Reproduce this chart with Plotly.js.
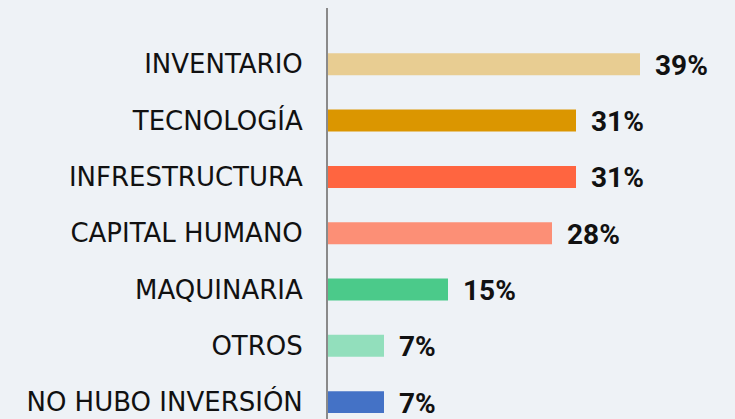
<!DOCTYPE html>
<html><head><meta charset="utf-8">
<script src="https://cdn.plot.ly/plotly-3.0.1.min.js"></script>
<style>html,body{margin:0;padding:0;background:#eef2f6;}#chart{width:735px;height:419px;}</style>
</head><body><div id="chart"></div>
<script>
const categories = ["NO HUBO INVERSIÓN","OTROS","MAQUINARIA","CAPITAL HUMANO","INFRESTRUCTURA","TECNOLOGÍA","INVENTARIO"];
const values = [7, 7, 15, 28, 31, 31, 39];
const colors = ["#4472c6","#92dfbc","#4bca8a","#fc8f76","#ff6540","#db9600","#e8cd92"];

const trace = {
  type: "bar", orientation: "h",
  x: values, y: categories,
  marker: {color: colors},
  hoverinfo: "none"
};
const annotations = values.map((v, i) => ({
  x: v, y: categories[i], xref: "x", yref: "y",
  text: v + "%", showarrow: false, xanchor: "left", xshift: 13, yshift: -1,
  font: {family: "Roboto", size: 28, color: "#111", weight: "bold"}
}));
const layout = {
  width: 735, height: 419,
  margin: {l: 328, r: 0, t: 8, b: 0},
  paper_bgcolor: "#eef2f6", plot_bgcolor: "rgba(0,0,0,0)",
  bargap: 0.61,
  showlegend: false,
  xaxis: {range: [0, 50.875], showgrid: false, zeroline: false, showticklabels: false, showline: false},
  yaxis: {type: "category", range: [-0.3, 7.0], showgrid: false, zeroline: false,
          showline: true, linecolor: "#8a8a8a", linewidth: 2, ticks: "",
          ticklabelstandoff: 18,
          tickfont: {family: "DejaVu Sans", size: 26, color: "#111"}},
  annotations: annotations
};
Plotly.newPlot("chart", [trace], layout, {displayModeBar: false, staticPlot: true});
</script></body></html>
